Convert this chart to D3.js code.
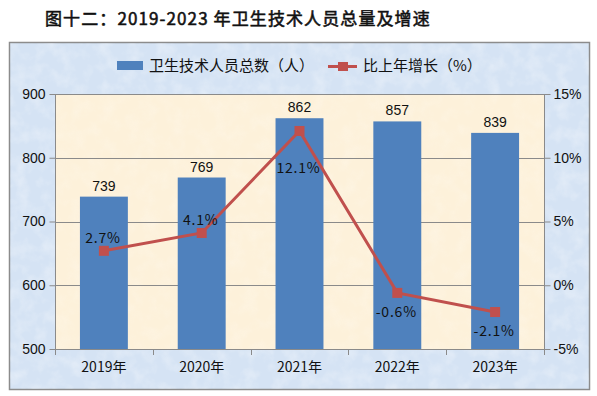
<!DOCTYPE html>
<html><head><meta charset="utf-8">
<script src="https://cdn.jsdelivr.net/npm/d3@7"></script>
<style>
html,body{margin:0;padding:0;background:#fff;}
svg{display:block;}
</style>
</head><body>
<svg id="chart" width="597" height="396"></svg>
<script>
const categories = ["2019年","2020年","2021年","2022年","2023年"];
const staffTotals = [739, 769, 862, 857, 839];
const growthRates = [2.7, 4.1, 12.1, -0.6, -2.1];
const leftTicks = [500, 600, 700, 800, 900];
const rightTicks = [-5, 0, 5, 10, 15];
const growthLabelPlace = ["above","above","farBelow","below","below"];
const titleText = "图十二：2019-2023 年卫生技术人员总量及增速";
const legendBar = "卫生技术人员总数（人）";
const legendLine = "比上年增长（%）";

const svg = d3.select("#chart");
const defs = svg.append("defs");

const f1 = defs.append("filter").attr("id","tex1").attr("x",0).attr("y",0).attr("width","100%").attr("height","100%");
f1.append("feTurbulence").attr("type","fractalNoise").attr("baseFrequency","0.07").attr("numOctaves",3).attr("seed",4).attr("result","n");
f1.append("feColorMatrix").attr("in","n").attr("type","matrix")
  .attr("values","0 0 0 0 1  0 0 0 0 1  0 0 0 0 1  0 0 0 1.1 -0.45").attr("result","m");
f1.append("feComposite").attr("in","m").attr("in2","SourceGraphic").attr("operator","in");

const box = {x:9, y:42, w:580, h:347};
const plot = {x:55, y:94, w:489, h:255};

svg.append("rect").attr("x",box.x+0.5).attr("y",box.y+0.5).attr("width",box.w).attr("height",box.h)
  .attr("fill","#d5e3f4").attr("stroke","#8c8c8c").attr("stroke-width",1.5);
svg.append("rect").attr("x",box.x+1).attr("y",box.y+1).attr("width",box.w-1).attr("height",box.h-1)
  .attr("fill","#ffffff").attr("filter","url(#tex1)").attr("opacity",0.6);

svg.append("rect").attr("x",plot.x).attr("y",plot.y).attr("width",plot.w).attr("height",plot.h)
  .attr("fill","#fdf1da");
svg.append("rect").attr("x",plot.x).attr("y",plot.y).attr("width",plot.w).attr("height",plot.h)
  .attr("fill","#ffffff").attr("filter","url(#tex1)").attr("opacity",0.35);

svg.append("text").attr("x",45).attr("y",25).text(titleText)
  .attr("font-family","'Noto Sans CJK SC'").attr("font-weight","normal").attr("font-size",17)
  .attr("letter-spacing","1.1px").attr("fill","#111").attr("stroke","#111").attr("stroke-width",0.55);

const x = d3.scaleBand().domain(categories).range([plot.x, plot.x+plot.w]).paddingInner(0.51).paddingOuter(0.255);
const xOuter = d3.scaleBand().domain(categories).range([plot.x, plot.x+plot.w]).padding(0);
const yL = d3.scaleLinear().domain([500,900]).range([plot.y+plot.h, plot.y]);
const yR = d3.scaleLinear().domain([-5,15]).range([plot.y+plot.h, plot.y]);

svg.append("g").selectAll("line").data(leftTicks.filter(d=>d>500)).join("line")
  .attr("x1",plot.x).attr("x2",plot.x+plot.w).attr("y1",d=>Math.round(yL(d))+0.5).attr("y2",d=>Math.round(yL(d))+0.5)
  .attr("stroke","#8a8a8a").attr("stroke-width",1);

svg.append("g").selectAll("rect").data(staffTotals).join("rect")
  .attr("x",(d,i)=>x(categories[i])).attr("width",x.bandwidth())
  .attr("y",d=>yL(d)).attr("height",d=>yL(500)-yL(d)).attr("fill","#4f81bd");

const numFont = "'Liberation Sans', Arial, sans-serif";

const axL = svg.append("g").attr("transform",`translate(${plot.x+0.5},0)`)
  .call(d3.axisLeft(yL).tickValues(leftTicks).tickSize(6).tickPadding(4).tickFormat(d3.format("d")));
const axR = svg.append("g").attr("transform",`translate(${plot.x+plot.w+0.5},0)`)
  .call(d3.axisRight(yR).tickValues(rightTicks).tickSize(6).tickPadding(3).tickFormat(d=>d+"%"));
const axB = svg.append("g").attr("transform",`translate(0,${plot.y+plot.h+0.5})`)
  .call(d3.axisBottom(xOuter).tickSize(0).tickPadding(13));
svg.append("g").selectAll("line").data(categories.concat(["__end"])).join("line")
  .attr("x1",(d,i)=>Math.round(plot.x + i*xOuter.step())+0.5).attr("x2",(d,i)=>Math.round(plot.x + i*xOuter.step())+0.5)
  .attr("y1",plot.y+plot.h).attr("y2",plot.y+plot.h+6).attr("stroke","#8a8a8a");

[axL,axR,axB].forEach(a=>{
  a.select(".domain").attr("stroke","#8a8a8a");
  a.selectAll(".tick line").attr("stroke","#8a8a8a");
  a.selectAll("text").attr("font-family",numFont).attr("font-size",14).attr("fill","#111");
});
axL.select(".domain").attr("d",`M0,${plot.y}V${plot.y+plot.h}`);
axR.select(".domain").attr("d",`M0,${plot.y}V${plot.y+plot.h}`);
axB.select(".domain").attr("d",`M${plot.x},0H${plot.x+plot.w}`);
axB.selectAll("text").attr("font-family","'Noto Sans CJK SC'").attr("font-size",14);

svg.append("g").selectAll("text").data(staffTotals).join("text")
  .attr("x",(d,i)=>x(categories[i])+x.bandwidth()/2).attr("y",d=>yL(d)-6)
  .attr("text-anchor","middle").attr("font-family",numFont).attr("font-size",14).attr("fill","#111")
  .text(d=>d);

const cx = (d,i)=>x(categories[i])+x.bandwidth()/2;
const line = d3.line().x((d,i)=>cx(d,i)).y(d=>yR(d));
svg.append("path").datum(growthRates).attr("d",line).attr("fill","none")
  .attr("stroke","#c0504d").attr("stroke-width",3);
svg.append("g").selectAll("rect").data(growthRates).join("rect")
  .attr("x",(d,i)=>cx(d,i)-5).attr("y",d=>yR(d)-5).attr("width",10).attr("height",10).attr("fill","#c0504d");

const labelDy = {above:-8, below:24, farBelow:42};
svg.append("g").selectAll("text").data(growthRates).join("text")
  .attr("x",(d,i)=>cx(d,i)-1).attr("y",(d,i)=>yR(d)+labelDy[growthLabelPlace[i]])
  .attr("text-anchor","middle").attr("font-family","'Noto Sans CJK SC'").attr("font-size",14)
  .attr("letter-spacing","0.8px").attr("fill","#111")
  .text(d=>d.toFixed(1)+"%");

const lg = svg.append("g");
lg.append("rect").attr("x",117).attr("y",61).attr("width",26).attr("height",9).attr("fill","#4f81bd");
lg.append("text").attr("x",149).attr("y",71).text(legendBar)
  .attr("font-family","'Noto Sans CJK SC'").attr("font-size",15).attr("fill","#111");
lg.append("line").attr("x1",328).attr("x2",357).attr("y1",66.5).attr("y2",66.5).attr("stroke","#c0504d").attr("stroke-width",3);
lg.append("rect").attr("x",338).attr("y",62).attr("width",10).attr("height",9).attr("fill","#c0504d");
lg.append("text").attr("x",363).attr("y",71).text(legendLine)
  .attr("font-family","'Noto Sans CJK SC'").attr("font-size",15).attr("fill","#111");
</script>
</body></html>
